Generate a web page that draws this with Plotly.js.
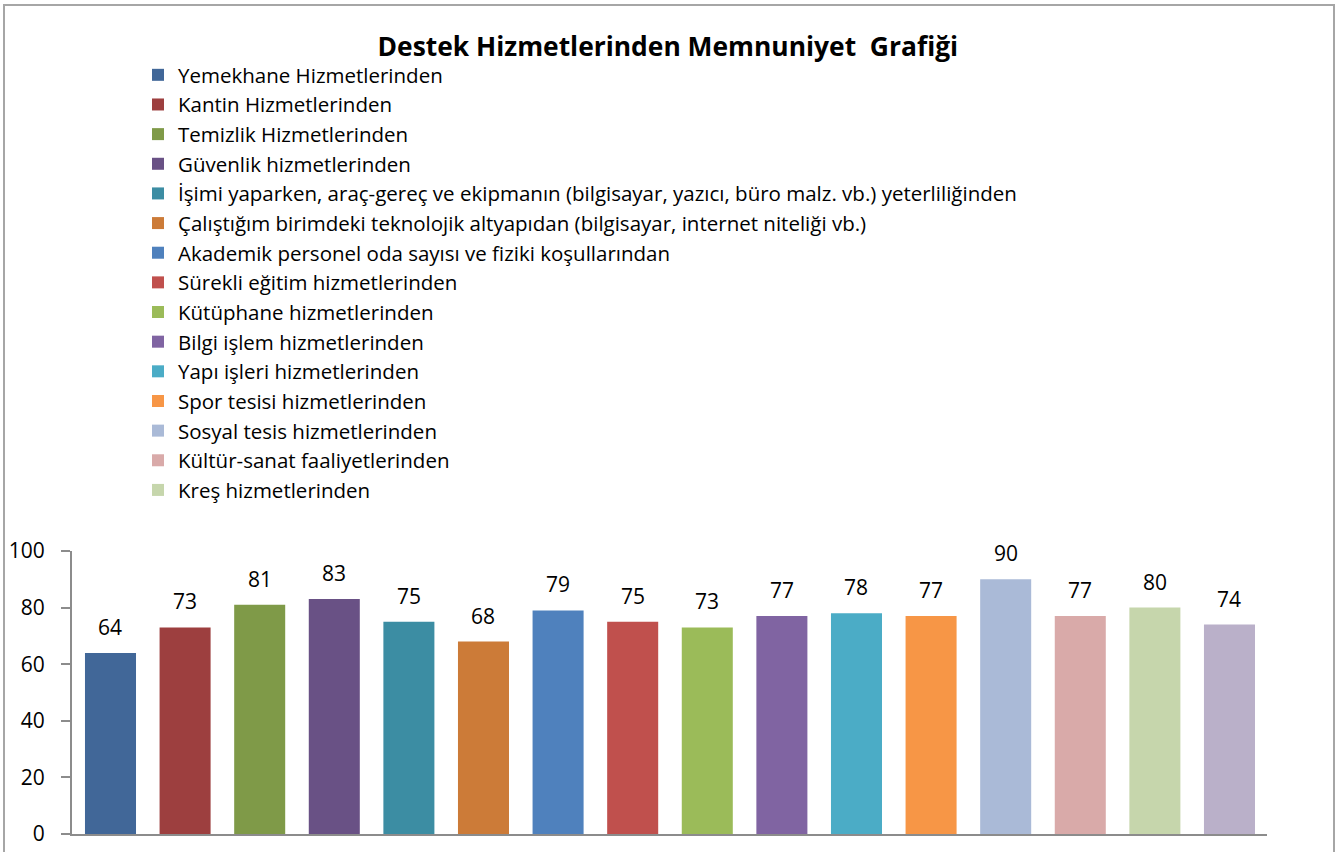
<!DOCTYPE html>
<html><head><meta charset="utf-8">
<script src="https://cdn.plot.ly/plotly-3.0.1.min.js"></script>
<style>
html,body{margin:0;padding:0;background:#fff;}
#chart{width:1341px;height:852px;position:absolute;left:0;top:0;}
#frame{position:absolute;left:3px;top:4px;width:1328px;height:900px;border:2px solid #a6a6a6;pointer-events:none;}
</style></head>
<body>
<div id="chart"></div>
<div id="frame"></div>
<script>
const categories = [
  "Yemekhane Hizmetlerinden",
  "Kantin Hizmetlerinden",
  "Temizlik Hizmetlerinden",
  "Güvenlik hizmetlerinden",
  "İşimi yaparken, araç-gereç ve ekipmanın (bilgisayar, yazıcı, büro malz. vb.) yeterliliğinden",
  "Çalıştığım birimdeki teknolojik altyapıdan (bilgisayar, internet niteliği vb.)",
  "Akademik personel oda sayısı ve fiziki koşullarından",
  "Sürekli eğitim hizmetlerinden",
  "Kütüphane hizmetlerinden",
  "Bilgi işlem hizmetlerinden",
  "Yapı işleri hizmetlerinden",
  "Spor tesisi hizmetlerinden",
  "Sosyal tesis hizmetlerinden",
  "Kültür-sanat faaliyetlerinden",
  "Kreş hizmetlerinden",
  "Diğer"
];
const values = [64, 73, 81, 83, 75, 68, 79, 75, 73, 77, 78, 77, 90, 77, 80, 74];
const colors = ["#416798","#9D3F3F","#7F9A48","#695185","#3C8DA3","#CC7B38",
                "#4F81BD","#C0504D","#9BBB59","#8064A2","#4BACC6","#F79646",
                "#AABAD7","#D9AAA9","#C6D6AC","#BAB0C9"];
const legendShown = [true,true,true,true,true,true,true,true,true,true,true,true,true,true,true,false];
const yTicks = [0, 20, 40, 60, 80, 100];

const FONT = "'Open Sans', Lato, sans-serif";

const traces = categories.map((c, i) => ({
  type: 'bar',
  name: c,
  x: [i],
  y: [values[i]],
  width: 0.684,
  marker: {color: colors[i]},
  showlegend: legendShown[i],
  hoverinfo: 'name+y'
}));

const annotations = values.map((v, i) => ({
  x: i, y: v, xref: 'x', yref: 'y',
  text: String(v), showarrow: false,
  yanchor: 'bottom', yshift: 10,
  font: {family: FONT, size: 21, color: '#000'}
}));

const layout = {
  width: 1341, height: 852,
  margin: {l: 72, r: 74, t: 551, b: 18, pad: 0, autoexpand: false},
  paper_bgcolor: '#fff', plot_bgcolor: '#fff',
  barmode: 'overlay',
  title: {text: '<b>Destek Hizmetlerinden Memnuniyet  Grafiği</b>',
          font: {family: FONT, size: 26.4, color: '#000'},
          x: 0.498, xanchor: 'center', xref: 'container',
          y: 1 - 47/852, yanchor: 'middle', yref: 'container'},
  showlegend: true,
  legend: {
    xref: 'container', yref: 'container',
    x: 138/1341, y: 1 - 55/852, xanchor: 'left', yanchor: 'top',
    font: {family: FONT, size: 20.5, color: '#000'},
    tracegroupgap: 0, traceorder: 'normal', maxheight: 700,
    bgcolor: 'rgba(0,0,0,0)', itemclick: false
  },
  xaxis: {
    range: [-0.516, 15.503], showticklabels: false, ticks: '',
    showgrid: false, zeroline: false,
    showline: true, linecolor: '#8c8c8c', linewidth: 2
  },
  yaxis: {
    range: [0, 100], tickvals: yTicks, ticktext: yTicks.map(String),
    showgrid: false, zeroline: false,
    showline: true, linecolor: '#8c8c8c', linewidth: 2,
    ticks: 'outside', ticklen: 9, tickcolor: '#8c8c8c', tickwidth: 2,
    ticklabelstandoff: 12,
    tickfont: {family: FONT, size: 21, color: '#000'}
  },
  annotations: annotations
};

Plotly.newPlot('chart', traces, layout, {displayModeBar: false, staticPlot: true});
</script>
</body></html>
